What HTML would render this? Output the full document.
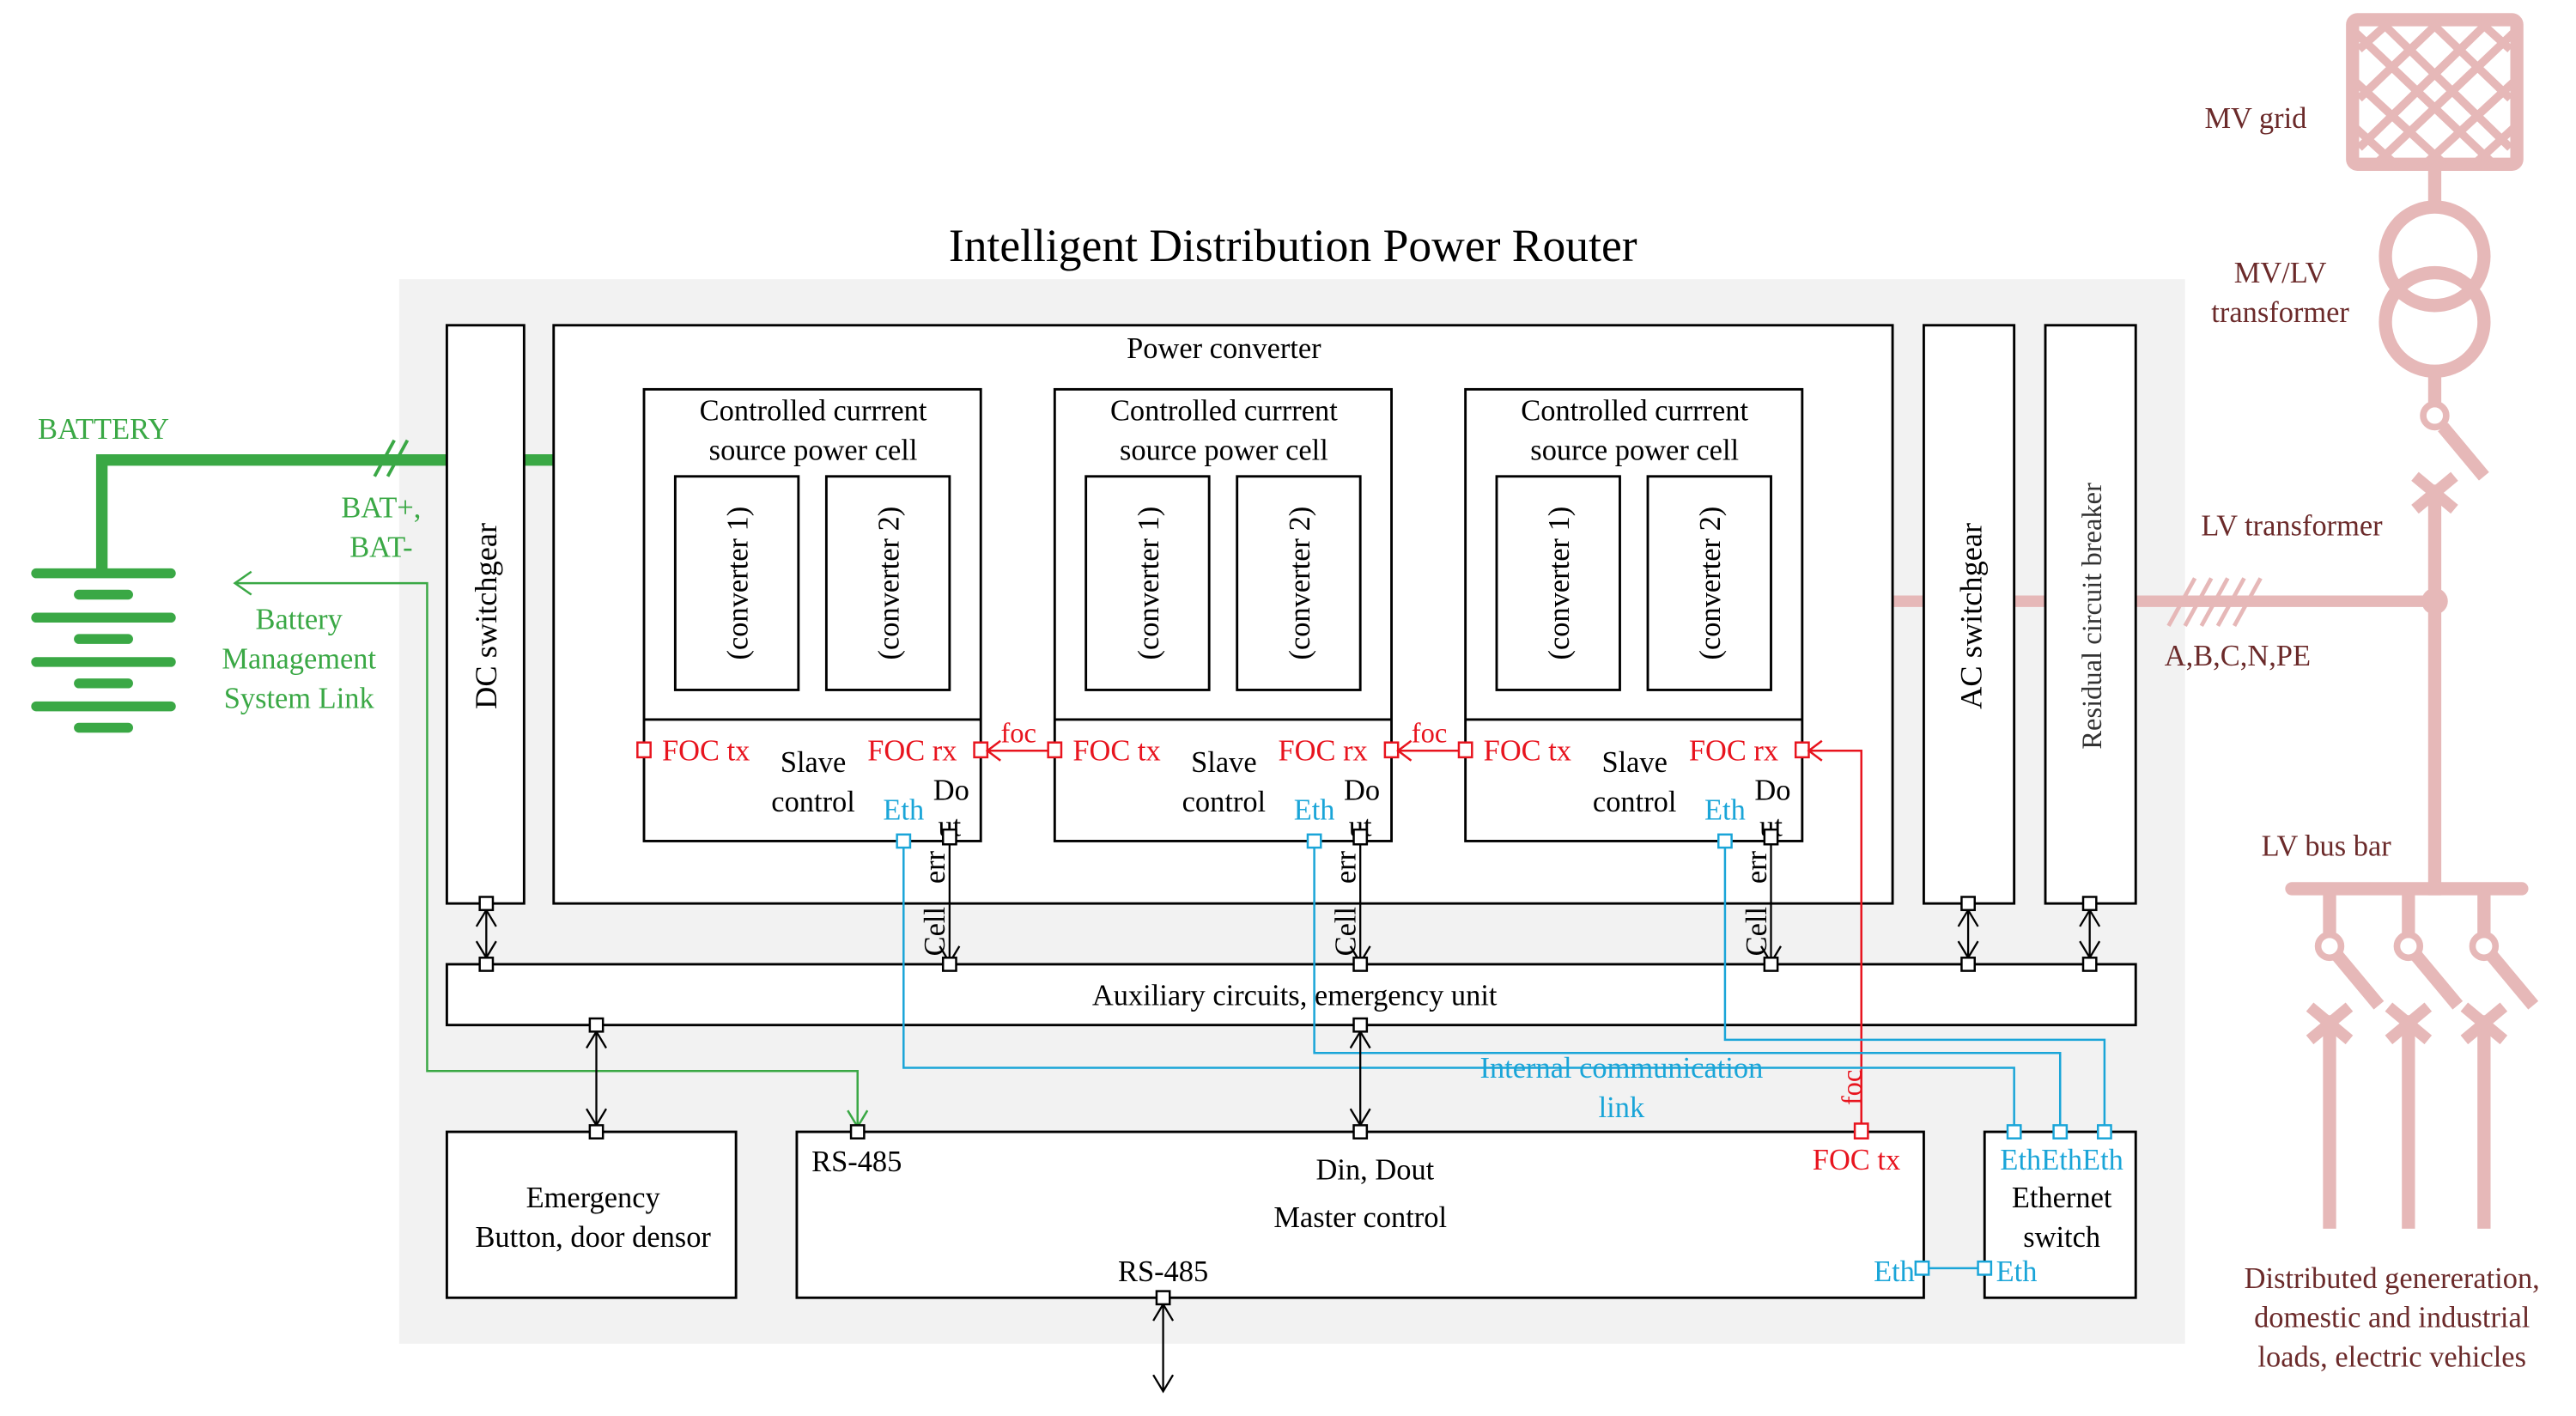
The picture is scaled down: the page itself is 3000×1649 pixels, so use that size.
<!DOCTYPE html>
<html><head><meta charset="utf-8"><style>
html,body{margin:0;padding:0;background:#fff;}
svg{display:block;}
text{font-family:"Liberation Serif",serif;}
</style></head><body>
<svg width="3000" height="1649" viewBox="0 0 1568 862" preserveAspectRatio="none" xmlns="http://www.w3.org/2000/svg">
<rect x="243" y="170" width="1087" height="648" fill="#f2f2f2"/>
<text x="787" y="159" font-size="28" text-anchor="middle">Intelligent Distribution Power Router</text>

<!-- pink power lines -->
<g stroke="#e6b8b8" fill="none" stroke-linecap="butt">
<line x1="1152" y1="366" x2="1171" y2="366" stroke-width="7"/>
<line x1="1226" y1="366" x2="1245" y2="366" stroke-width="7"/>
<line x1="1300" y1="366" x2="1482" y2="366" stroke-width="7"/>
<g stroke-width="2.5"><line x1="1320" y1="381" x2="1336" y2="352"/><line x1="1330" y1="381" x2="1346" y2="352"/><line x1="1340" y1="381" x2="1356" y2="352"/><line x1="1350" y1="381" x2="1366" y2="352"/><line x1="1360" y1="381" x2="1376" y2="352"/></g>
<rect x="1432" y="12" width="100" height="88" rx="3" stroke-width="8"/>
<g stroke-width="5"><path d="M1436 30 L1456 12 M1436 60 L1486 12 M1436 90 L1516 12 M1446 100 L1530 20 M1476 100 L1530 50 M1506 100 L1530 78"/><path d="M1528 30 L1508 12 M1528 60 L1478 12 M1528 90 L1448 12 M1518 100 L1434 20 M1488 100 L1434 50 M1458 100 L1434 78"/></g>
<line x1="1482" y1="100" x2="1482" y2="124" stroke-width="8"/>
<circle cx="1482" cy="156" r="30" stroke-width="8"/>
<circle cx="1482" cy="196" r="30" stroke-width="8"/>
<line x1="1482" y1="226" x2="1482" y2="246" stroke-width="8"/>
<circle cx="1482" cy="253" r="7" stroke-width="4" fill="#fff"/>
<line x1="1487" y1="260" x2="1512" y2="290" stroke-width="8"/>
<line x1="1470" y1="290" x2="1494" y2="310" stroke-width="7"/><line x1="1494" y1="290" x2="1470" y2="310" stroke-width="7"/>
<line x1="1482" y1="295" x2="1482" y2="545" stroke-width="8"/>
<circle cx="1482" cy="366" r="8" fill="#e6b8b8" stroke="none"/>
<line x1="1395" y1="541" x2="1535" y2="541" stroke-width="8" stroke-linecap="round"/>
<g id="br">
<line x1="1418" y1="541" x2="1418" y2="570" stroke-width="8"/>
<circle cx="1418" cy="576" r="7" stroke-width="4" fill="#fff"/>
<line x1="1423" y1="582" x2="1448" y2="612" stroke-width="8"/>
<line x1="1406" y1="613" x2="1430" y2="633" stroke-width="7"/><line x1="1430" y1="613" x2="1406" y2="633" stroke-width="7"/>
<line x1="1418" y1="618" x2="1418" y2="748" stroke-width="8"/>
</g>
<use href="#br" x="48"/><use href="#br" x="94"/>
</g>
<g fill="#6b2a2a" font-size="18" text-anchor="middle">
<text x="1373" y="78">MV grid</text>
<text x="1388" y="172">MV/LV</text><text x="1388" y="196">transformer</text>
<text x="1395" y="326">LV transformer</text>
<text x="1362" y="405">A,B,C,N,PE</text>
<text x="1416" y="521">LV bus bar</text>
<text x="1456" y="784">Distributed genereration,</text>
<text x="1456" y="808">domestic and industrial</text>
<text x="1456" y="832">loads, electric vehicles</text>
</g>

<!-- green battery -->
<g stroke="#3aa845" fill="none">
<path d="M62 350 L62 280 L272 280" stroke-width="7"/>
<line x1="319" y1="280" x2="337" y2="280" stroke-width="7"/>
<g stroke-width="2"><line x1="228" y1="290" x2="240" y2="268"/><line x1="236" y1="290" x2="248" y2="268"/></g>
<g stroke-width="6" stroke-linecap="round">
<line x1="22" y1="349" x2="104" y2="349"/><line x1="48" y1="362" x2="78" y2="362"/>
<line x1="22" y1="376" x2="104" y2="376"/><line x1="48" y1="389" x2="78" y2="389"/>
<line x1="22" y1="403" x2="104" y2="403"/><line x1="48" y1="416" x2="78" y2="416"/>
<line x1="22" y1="430" x2="104" y2="430"/><line x1="48" y1="443" x2="78" y2="443"/>
</g>
<path d="M143 355 L260 355 L260 652 L522 652 L522 686" stroke-width="1.3"/>
<path d="M153 348 L143 355 L153 362" stroke-width="1.3"/>
<path d="M516 676 L522 686 L528 676" stroke-width="1.3"/>
</g>
<g fill="#3aa845" font-size="18" text-anchor="middle">
<text x="63" y="267">BATTERY</text>
<text x="232" y="315">BAT+,</text><text x="232" y="339">BAT-</text>
<text x="182" y="383">Battery</text><text x="182" y="407">Management</text><text x="182" y="431">System Link</text>
</g>

<!-- boxes -->
<g fill="#fff" stroke="#000" stroke-width="1.5">
<rect x="272" y="198" width="47" height="352"/>
<rect x="337" y="198" width="815" height="352"/>
<rect x="1171" y="198" width="55" height="352"/>
<rect x="1245" y="198" width="55" height="352"/>
<rect x="272" y="587" width="1028" height="37"/>
<rect x="272" y="689" width="176" height="101"/>
<rect x="485" y="689" width="686" height="101"/>
<rect x="1208" y="689" width="92" height="101"/>
</g>
<text x="745" y="218" font-size="18" text-anchor="middle">Power converter</text>
<text transform="translate(302 375) rotate(-90)" font-size="19" text-anchor="middle">DC switchgear</text>
<text transform="translate(1206 375) rotate(-90)" font-size="19" text-anchor="middle">AC switchgear</text>
<text transform="translate(1279 375) rotate(-90)" font-size="17" text-anchor="middle" fill="#333">Residual circuit breaker</text>
<text x="788" y="612" font-size="18" text-anchor="middle">Auxiliary circuits, emergency unit</text>
<text x="361" y="735" font-size="18" text-anchor="middle">Emergency</text>
<text x="361" y="759" font-size="18" text-anchor="middle">Button, door densor</text>
<text x="494" y="713" font-size="18">RS-485</text>
<text x="837" y="718" font-size="18" text-anchor="middle">Din, Dout</text>
<text x="828" y="747" font-size="18" text-anchor="middle">Master control</text>
<text x="708" y="780" font-size="18" text-anchor="middle">RS-485</text>
<text x="1130" y="712" font-size="18" text-anchor="middle" fill="#e8141e">FOC tx</text>
<text x="1153" y="780" font-size="18" text-anchor="middle" fill="#1aa5d8">Eth</text>
<text x="1255" y="712" font-size="18" text-anchor="middle" fill="#1aa5d8">EthEthEth</text>
<text x="1255" y="735" font-size="18" text-anchor="middle">Ethernet</text>
<text x="1255" y="759" font-size="18" text-anchor="middle">switch</text>
<text x="1215" y="780" font-size="18" fill="#1aa5d8">Eth</text>

<!-- cells -->
<g id="cell">
<rect x="392" y="237" width="205" height="275" fill="#fff" stroke="#000" stroke-width="1.5"/>
<line x1="392" y1="438" x2="597" y2="438" stroke="#000" stroke-width="1.5"/>
<rect x="411" y="290" width="75" height="130" fill="#fff" stroke="#000" stroke-width="1.5"/>
<rect x="503" y="290" width="75" height="130" fill="#fff" stroke="#000" stroke-width="1.5"/>
<text x="495" y="256" font-size="18" text-anchor="middle">Controlled currrent</text>
<text x="495" y="280" font-size="18" text-anchor="middle">source power cell</text>
<text transform="translate(455 355) rotate(-90)" font-size="18" text-anchor="middle">(converter 1)</text>
<text transform="translate(547 355) rotate(-90)" font-size="18" text-anchor="middle">(converter 2)</text>
<text x="403" y="463" font-size="18" fill="#e8141e">FOC tx</text>
<text x="528" y="463" font-size="18" fill="#e8141e">FOC rx</text>
<text x="495" y="470" font-size="18" text-anchor="middle">Slave</text>
<text x="495" y="494" font-size="18" text-anchor="middle">control</text>
<text x="550" y="499" font-size="18" text-anchor="middle" fill="#1aa5d8">Eth</text>
<text x="579" y="487" font-size="18" text-anchor="middle">Do</text>
<text x="578" y="509" font-size="18" text-anchor="middle">ut</text>
<text transform="translate(575 528) rotate(-90)" font-size="18" text-anchor="middle">err</text>
<text transform="translate(575 567) rotate(-90)" font-size="18" text-anchor="middle">Cell</text>
<line x1="578" y1="512" x2="578" y2="587" stroke="#000" stroke-width="1.2"/>
<path d="M572 576 L578 586 L584 576" fill="none" stroke="#000" stroke-width="1.2"/>
<rect x="388" y="452" width="8" height="9" fill="#fff" stroke="#e8141e" stroke-width="1.3"/>
<rect x="593" y="452" width="8" height="9" fill="#fff" stroke="#e8141e" stroke-width="1.3"/>
<rect x="546" y="508" width="8" height="8" fill="#fff" stroke="#1aa5d8" stroke-width="1.3"/>
<rect x="574" y="505" width="8" height="9" fill="#fff" stroke="#000" stroke-width="1.3"/>
</g>
<use href="#cell" x="250"/><use href="#cell" x="500"/>

<!-- foc links -->
<g stroke="#e8141e" fill="none" stroke-width="1.3">
<line x1="601" y1="457" x2="638" y2="457"/><path d="M609 451 L601 457 L609 463"/>
<line x1="851" y1="457" x2="888" y2="457"/><path d="M859 451 L851 457 L859 463"/>
<path d="M1133 684 L1133 457 L1101 457"/><path d="M1109 451 L1101 457 L1109 463"/>
<rect x="1129" y="684" width="8" height="9" fill="#fff"/>
</g>
<g fill="#e8141e" font-size="17" text-anchor="middle">
<text x="620" y="452">foc</text><text x="870" y="452">foc</text>
<text transform="translate(1133 662) rotate(-90)">foc</text>
</g>

<!-- ethernet lines -->
<g stroke="#1aa5d8" fill="none" stroke-width="1.3">
<path d="M550 516 L550 650 L1226 650 L1226 685"/>
<path d="M800 516 L800 641 L1254 641 L1254 685"/>
<path d="M1050 516 L1050 633 L1281 633 L1281 685"/>
<line x1="1174" y1="772" x2="1204" y2="772"/>
<rect x="1222" y="685" width="8" height="8" fill="#fff"/>
<rect x="1250" y="685" width="8" height="8" fill="#fff"/>
<rect x="1277" y="685" width="8" height="8" fill="#fff"/>
<rect x="1166" y="768" width="8" height="8" fill="#fff"/>
<rect x="1204" y="768" width="8" height="8" fill="#fff"/>
</g>
<text x="987" y="656" font-size="18" text-anchor="middle" fill="#1aa5d8">Internal communication</text>
<text x="987" y="680" font-size="18" text-anchor="middle" fill="#1aa5d8">link</text>

<!-- black connectors -->
<g stroke="#000" fill="none" stroke-width="1.2">
<line x1="296" y1="554" x2="296" y2="583"/><path d="M290 564 L296 554 L302 564 M290 573 L296 583 L302 573"/>
<line x1="1198" y1="554" x2="1198" y2="583"/><path d="M1192 564 L1198 554 L1204 564 M1192 573 L1198 583 L1204 573"/>
<line x1="1272" y1="554" x2="1272" y2="583"/><path d="M1266 564 L1272 554 L1278 564 M1266 573 L1272 583 L1278 573"/>
<line x1="363" y1="628" x2="363" y2="685"/><path d="M357 638 L363 628 L369 638 M357 675 L363 685 L369 675"/>
<line x1="828" y1="628" x2="828" y2="685"/><path d="M822 638 L828 628 L834 638 M822 675 L828 685 L834 675"/>
<line x1="708" y1="794" x2="708" y2="847"/><path d="M702 804 L708 794 L714 804 M702 837 L708 847 L714 837"/>
</g>
<g fill="#fff" stroke="#000" stroke-width="1.3">
<rect x="292" y="546" width="8" height="8"/><rect x="1194" y="546" width="8" height="8"/><rect x="1268" y="546" width="8" height="8"/>
<rect x="292" y="583" width="8" height="8"/><rect x="574" y="583" width="8" height="8"/><rect x="824" y="583" width="8" height="8"/><rect x="1074" y="583" width="8" height="8"/><rect x="1194" y="583" width="8" height="8"/><rect x="1268" y="583" width="8" height="8"/>
<rect x="359" y="620" width="8" height="8"/><rect x="824" y="620" width="8" height="8"/>
<rect x="359" y="685" width="8" height="8"/><rect x="824" y="685" width="8" height="8"/><rect x="518" y="685" width="8" height="8"/>
<rect x="704" y="786" width="8" height="8"/>
</g>
</svg>
</body></html>
